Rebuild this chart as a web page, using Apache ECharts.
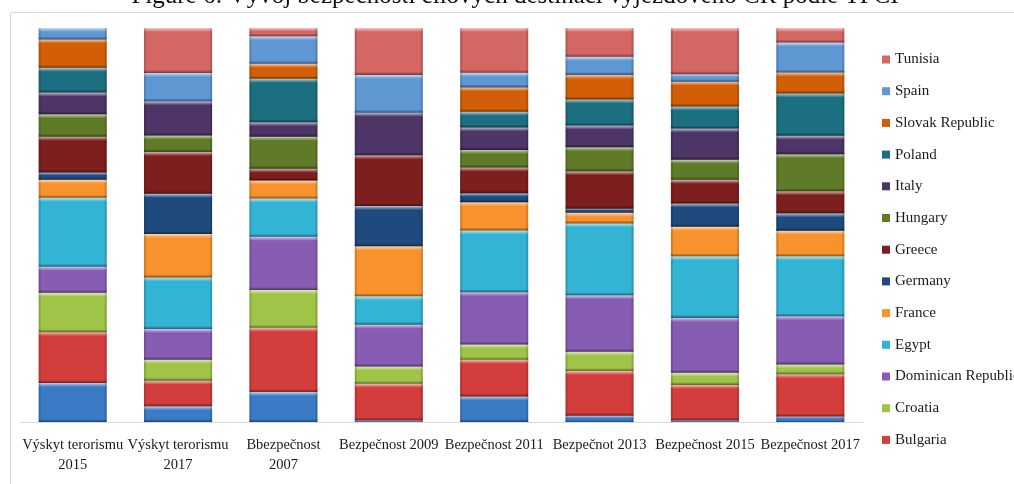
<!DOCTYPE html>
<html>
<head>
<meta charset="utf-8">
<script src="https://cdn.jsdelivr.net/npm/echarts@6/dist/echarts.min.js"></script>
<style>
  html, body { margin: 0; padding: 0; background: #ffffff; }
  #chart { width: 1014px; height: 484px; }
</style>
</head>
<body>
<div id="chart"></div>
<script>
// Categories along the x axis
const categories = [
  'Výskyt terorismu\n2015', 'Výskyt terorismu\n2017', 'Bbezpečnost\n2007',
  'Bezpečnost 2009', 'Bezpečnost 2011', 'Bezpečnot 2013',
  'Bezpečnost 2015', 'Bezpečnost 2017'
];

// Share of each destination per category (percent, stacked to 100 %)
const austria    = [9.9, 4.0, 7.6, 0.4, 6.5, 1.6, 0.4, 1.4];
const bulgaria   = [12.9, 6.5, 16.3, 9.3, 9.3, 11.3, 9.0, 10.7];
const croatia    = [10.0, 5.3, 9.6, 4.4, 3.9, 4.9, 3.1, 2.5];
const dominican  = [6.6, 7.8, 13.5, 10.6, 13.3, 14.3, 13.9, 12.2];
const egypt      = [17.5, 13.1, 9.7, 7.2, 15.7, 18.2, 15.6, 15.2];
const france     = [4.6, 11.0, 4.6, 12.7, 7.2, 2.7, 7.5, 6.5];
const germany    = [1.8, 10.2, 0, 10.2, 2.3, 1.0, 5.9, 4.4];
const greece     = [9.1, 10.6, 3.0, 12.9, 6.5, 9.5, 6.0, 5.6];
const hungary    = [5.7, 4.2, 8.1, 0, 4.5, 6.1, 5.1, 9.4];
const italy      = [5.5, 8.7, 3.7, 10.8, 5.7, 5.5, 7.9, 4.7];
const poland     = [6.3, 0, 11.0, 0, 4.0, 6.6, 5.6, 10.7];
const slovakia   = [7.2, 0, 3.8, 0, 6.2, 6.2, 6.3, 5.3];
const spain      = [2.9, 7.2, 7.0, 9.6, 3.7, 4.6, 1.9, 7.6];
const tunisia    = [0, 11.4, 2.1, 11.9, 11.4, 7.3, 11.7, 3.7];

// Series in stacking order, bottom to top
const seriesNames = [
  'Austria', 'Bulgaria', 'Croatia', 'Dominican Republic', 'Egypt', 'France',
  'Germany', 'Greece', 'Hungary', 'Italy', 'Poland', 'Slovak Republic',
  'Spain', 'Tunisia'
];
const seriesValues = [
  austria, bulgaria, croatia, dominican, egypt, france,
  germany, greece, hungary, italy, poland, slovakia, spain, tunisia
];

// Fill colours per series
const seriesColors = {
  'Austria': '#3b7bc6',
  'Bulgaria': '#d33d3b',
  'Croatia': '#9fc447',
  'Dominican Republic': '#875db4',
  'Egypt': '#33b4d4',
  'France': '#f7922d',
  'Germany': '#1e4a7d',
  'Greece': '#7d1f1f',
  'Hungary': '#5f7b27',
  'Italy': '#4d3567',
  'Poland': '#1c6e81',
  'Slovak Republic': '#d25f08',
  'Spain': '#5f97d3',
  'Tunisia': '#d46664'
};

// Normalise every column to 100 % and build [category, start, end] triples
const totals = categories.map((_, i) =>
  seriesValues.reduce((s, arr) => s + arr[i], 0));
const running = categories.map(() => 0);
const stackedData = seriesValues.map(arr => arr.map((v, i) => {
  const start = running[i];
  running[i] += v / totals[i] * 100;
  return [i, start, running[i]];
}));

const BAR_RATIO = 0.646;

// Bevelled column segment
function makeRenderer(color) {
  return function (params, api) {
    const start = api.value(1);
    const end = api.value(2);
    if (end - start <= 0) return null;
    const p0 = api.coord([api.value(0), start]);
    const p1 = api.coord([api.value(0), end]);
    const w = api.size([1, 0])[0] * BAR_RATIO;
    const x = p0[0] - w / 2;
    const y = p1[1];
    const h = p0[1] - p1[1];
    const hl = Math.min(4, h / 2.5);
    const sh = Math.min(3, h / 3);
    return {
      type: 'group',
      children: [
        { type: 'rect', shape: { x: x, y: y, width: w, height: h },
          style: { fill: color } },
        { type: 'rect', shape: { x: x, y: y, width: w, height: hl },
          style: { fill: new echarts.graphic.LinearGradient(0, 0, 0, 1, [
            { offset: 0, color: 'rgba(255,255,255,0.65)' },
            { offset: 1, color: 'rgba(255,255,255,0)' }]) } },
        { type: 'rect', shape: { x: x, y: y + h - sh, width: w, height: sh },
          style: { fill: new echarts.graphic.LinearGradient(0, 0, 0, 1, [
            { offset: 0, color: 'rgba(0,0,0,0)' },
            { offset: 1, color: 'rgba(0,0,0,0.45)' }]) } },
        { type: 'rect', shape: { x: x, y: y, width: 2, height: h },
          style: { fill: 'rgba(0,0,0,0.14)' } },
        { type: 'rect', shape: { x: x + w - 2, y: y, width: 2, height: h },
          style: { fill: 'rgba(0,0,0,0.14)' } }
      ]
    };
  };
}

const chart = echarts.init(document.getElementById('chart'), null, { renderer: 'canvas' });

const series = seriesNames.map((name, k) => ({
  name: name,
  type: 'custom',
  renderItem: makeRenderer(seriesColors[name]),
  itemStyle: { color: seriesColors[name] },
  encode: { x: 0, y: [1, 2] },
  data: stackedData[k],
  animation: false
}));

chart.setOption({
  backgroundColor: '#ffffff',
  animation: false,
  textStyle: { fontFamily: 'Liberation Serif' },
  graphic: [
    { type: 'rect', left: 8, top: 10, z: -10,
      shape: { x: 0.5, y: 0.5, width: 1100, height: 600 },
      style: { fill: 'none', stroke: '#d9d9d9', lineWidth: 1 } },
    { type: 'text', x: 515, y: -4, z: 10,
      style: {
        text: 'Figure 6: Vývoj bezpečnosti cílových destinací výjezdového CR podle TPCI',
        font: '25px "Liberation Serif"', fill: '#111',
        textAlign: 'center', textVerticalAlign: 'middle'
      } }
  ],
  grid: { left: 20, right: 151, top: 28, bottom: 62 },
  legend: {
    orient: 'vertical',
    left: 882,
    top: 52,
    padding: 0,
    itemWidth: 8,
    itemHeight: 8,
    itemGap: 16.7,
    icon: 'rect',
    selectedMode: false,
    data: seriesNames.slice(1).reverse(),
    textStyle: { fontFamily: 'Liberation Serif', fontSize: 15, color: '#1a1a1a' }
  },
  xAxis: {
    type: 'category',
    data: categories,
    axisLine: { show: true, lineStyle: { color: '#d9d9d9', width: 1 } },
    axisTick: { show: false },
    axisLabel: {
      interval: 0, margin: 13, fontSize: 14.5, lineHeight: 20,
      color: '#1a1a1a', fontFamily: 'Liberation Serif'
    },
    splitLine: { show: false }
  },
  yAxis: {
    type: 'value', min: 0, max: 100, show: false,
    splitLine: { show: false }
  },
  series: series
});
</script>
</body>
</html>
